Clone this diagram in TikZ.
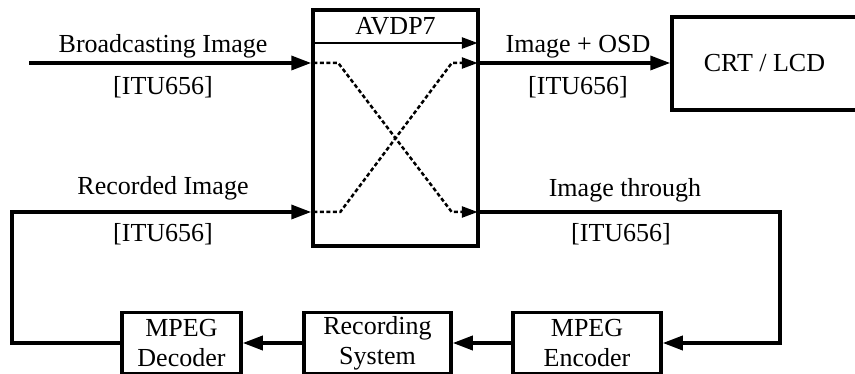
\documentclass[tikz,border=0pt]{standalone}
\usepackage{fontspec}
\setmainfont{Liberation Serif}
\usetikzlibrary{arrows.meta}
\begin{document}
\begin{tikzpicture}[x=1pt,y=-1pt,
  every node/.style={font=\fontsize{26}{30}\selectfont, inner sep=0pt},
  blk/.style={draw, line width=3.5pt, rectangle, align=center},
  lbl/.style={anchor=base},
  arr/.style={line width=3.5pt, -{Triangle[length=20pt,width=14pt]}},
  thinarr/.style={line width=2.5pt, -{Triangle[length=16pt,width=11pt]}},
  dasharr/.style={line width=2.5pt, dash pattern=on 4pt off 2.5pt, -{Triangle[length=16pt,width=11pt]}}]
\useasboundingbox (0,0) rectangle (855,374);
% blocks
\node[blk, minimum width=165pt, minimum height=236pt] (avdp) at (395.5,128) {};
\node[blk, minimum width=210pt, minimum height=93pt] (crt) at (777,63.5) {};
\node (crtlabel) at (764.5,63.5) {CRT / LCD};
\node[blk, minimum width=119pt, minimum height=61pt] (dec) at (181.5,343) {MPEG\\Decoder};
\node[blk, minimum width=147pt, minimum height=61pt] (rec) at (377.5,343) {Recording\\System};
\node[blk, minimum width=148pt, minimum height=61pt] (enc) at (587,343) {MPEG\\Encoder};
% port coordinates
\coordinate (src) at (29,63);
\coordinate (loopL) at (12,212);
\coordinate (loopR) at (780,212);
\coordinate (inA) at (src -| avdp.west);
\coordinate (inB) at (loopL -| avdp.west);
\coordinate (outA) at (src -| avdp.east);
\coordinate (outB) at (loopL -| avdp.east);
% title inside AVDP7
\node[lbl] (title) at (395.5,35) {AVDP7};
\coordinate (tl) at ([xshift=2pt]avdp.west |- 0,43);
\coordinate (tr) at ([xshift=-2pt]avdp.east |- 0,43);
\draw[thinarr] (tl) -- (tr);
% crossed dashed paths
\draw[dasharr] ([xshift=2pt]inA) -- ++(25,0) -- ([xshift=-28pt]outB) -- ([xshift=-2pt]outB);
\draw[dasharr] ([xshift=2pt]inB) -- ++(27,0) -- ([xshift=-28pt]outA) -- ([xshift=-2pt]outA);
% external connectors
\draw[arr] (src) -- (inA);
\draw[arr] (outA) -- (crt.west |- outA);
\draw[arr] (dec.west) -| (loopL) -- (inB);
\draw[arr] (outB) -- (loopR) |- (enc.east);
\draw[arr] (enc.west) -- (rec.east);
\draw[arr] (rec.west) -- (dec.east);
% labels
\node[lbl] (l1) at (163,53) {Broadcasting Image};
\node[lbl] (l2) at (163,95) {[ITU656]};
\node[lbl] (l3) at (578,53) {Image + OSD};
\node[lbl] (l4) at (578,95) {[ITU656]};
\node[lbl] (l5) at (163,195) {Recorded Image};
\node[lbl] (l6) at (163,242) {[ITU656]};
\node[lbl] (l7) at (625,197) {Image through};
\node[lbl] (l8) at (621,242) {[ITU656]};
\end{tikzpicture}
\end{document}
